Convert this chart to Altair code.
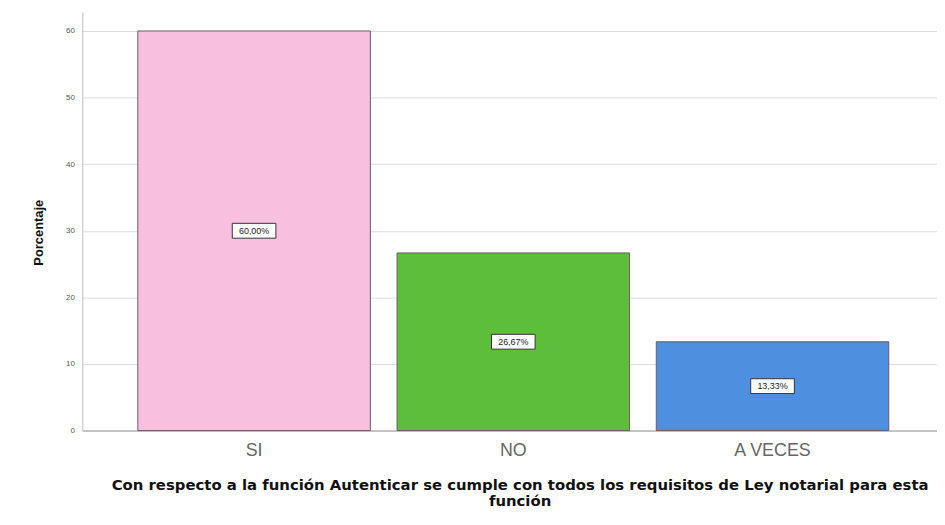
import altair as alt
import pandas as pd

categories = ["SI", "NO", "A VECES"]
values = [60.00, 26.67, 13.33]
labels = ["60,00%", "26,67%", "13,33%"]
colors = ["#F9BFDF", "#5DBE3A", "#4F8FE0"]
title_lines = ["Con respecto a la función Autenticar se cumple con todos los requisitos de Ley notarial para esta", "función"]

df = pd.DataFrame({"cat": categories, "val": values, "lab": labels, "col": colors})
df["mid"] = df["val"] / 2

FONT = "Liberation Sans"

x = alt.X("cat:N", sort=categories,
          scale=alt.Scale(paddingInner=0.103, paddingOuter=0.2, align=0.535),
          axis=alt.Axis(title=title_lines, labelFontSize=18, labelColor="#666666",
                        labelFont=FONT, labelAngle=0, labelPadding=11, ticks=False,
                        domainColor="#9a9a9a", titleFont="DejaVu Sans", titleFontSize=15,
                        titleFontWeight="bold", titleColor="#111111", titlePadding=18,
                        titleLineHeight=17, titleX=441))

bars = alt.Chart(df).mark_bar(stroke="#6e5a64", strokeWidth=1).encode(
    x=x,
    y=alt.Y("val:Q", scale=alt.Scale(domain=[0, 62.83], nice=False),
            axis=alt.Axis(title="Porcentaje", values=[0, 10, 20, 30, 40, 50, 60],
                          labelFontSize=8, labelColor="#555555", labelFont=FONT,
                          ticks=False, labelPadding=8, domainColor="#bdbdbd",
                          gridColor="#dcdcdc", titleFont=FONT, titleFontSize=13,
                          titleFontWeight="bold", titleColor="#111111", titlePadding=20,
                          titleY=222)),
    color=alt.Color("col:N", scale=None),
)

boxes = alt.Chart(df).mark_point(
    shape="M-1,-0.34L1,-0.34L1,0.34L-1,0.34Z", filled=True, fill="white",
    stroke="#333333", strokeWidth=1, size=1936, opacity=1
).encode(x=alt.X("cat:N", sort=categories), y="mid:Q")

texts = alt.Chart(df).mark_text(font=FONT, fontSize=9, color="#222222").encode(
    x=alt.X("cat:N", sort=categories), y="mid:Q", text="lab:N")

chart = alt.layer(bars, boxes, texts).properties(
    width=862, height=422,
    autosize=alt.AutoSizeParams(type="none"),
    padding={"left": 75, "top": 2, "right": 0, "bottom": 80},
).configure_view(stroke=None)

chart.save("out.html", embed_options={"renderer": "svg", "actions": False})
